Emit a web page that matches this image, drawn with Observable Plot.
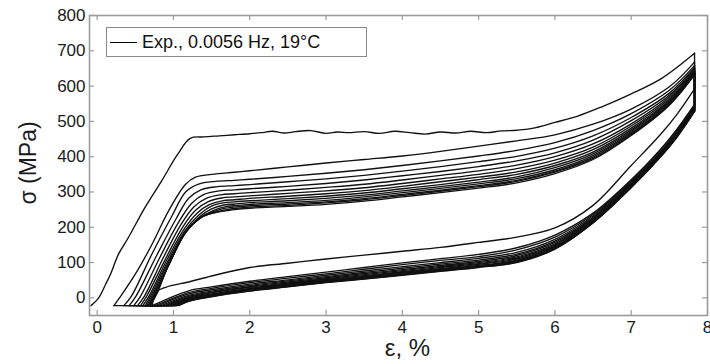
<!DOCTYPE html>
<html><head><meta charset="utf-8">
<script src="https://cdn.jsdelivr.net/npm/d3@7"></script>
<script src="https://cdn.jsdelivr.net/npm/@observablehq/plot@0.6"></script>
<style>
body{margin:0;background:#fff;}
#wrap{position:relative;width:710px;height:364px;font-family:"Liberation Sans",Arial,sans-serif;}
#legend{position:absolute;left:106px;top:27px;width:259px;height:28px;border:1px solid #8a8a8a;background:#fff;display:flex;align-items:center;font-size:18px;color:#111;z-index:2;}
#legend .sw{display:inline-block;width:27px;height:0;border-top:1.3px solid #000;margin:0 5px 0 3px;}
#ylab{position:absolute;left:28px;top:163px;transform:translate(-50%,-50%) rotate(-90deg);font-size:23px;color:#1a1a1a;white-space:nowrap;z-index:2;}
</style></head><body>
<div id="wrap"><div id="legend"><span class="sw"></span><span id="legtext"></span></div><div id="ylab"></div></div>
<script>
// ---- labels & ticks ----
const legendLabel = "Exp., 0.0056 Hz, 19°C";
const xLabel = "ε, %";
const yLabel = "σ (MPa)";
const xTicks = [0, 1, 2, 3, 4, 5, 6, 7, 8];
const yTicks = [0, 100, 200, 300, 400, 500, 600, 700, 800];
const baseSig = -22;

// ---- cycle 1 (first loading, plateau ~470 MPa) ----
const c1LoadEps = [-0.08, 0.02, 0.11, 0.175, 0.28, 0.41, 0.63, 0.85, 1.05, 1.22, 1.4, 1.6, 1.8, 2.0, 2.15, 2.3, 2.45, 2.6, 2.8, 3.0, 3.15, 3.3, 3.5, 3.7, 3.9, 4.1, 4.3, 4.5, 4.7, 4.9, 5.1, 5.3, 5.5, 5.7, 6.0, 6.3, 6.6, 7.0, 7.4, 7.83];
const c1LoadSig = [-22, 0, 38, 67, 124, 171, 257, 333, 405, 452, 456, 459, 462, 465, 468, 472, 467, 471, 474, 466, 470, 468, 471, 466, 472, 468, 464, 470, 467, 472, 468, 473, 475, 480, 497, 515, 540, 578, 622, 693];

// ---- unloading strain grid (shared) ----
const unloadGrid = [7.83, 7.6, 7.38, 7.0, 6.5, 6.0, 5.5, 5.0, 4.5, 4.0, 3.5, 3.0, 2.5, 2.0, 1.5, 1.2];
const c1UnloadSig = [592, 520, 462, 375, 262, 198, 172, 157, 143, 132, 121, 110, 98, 86, 62, 45];
const c1TailEps = [0.9, 0.78, 0.72];
const c1TailSig = [30, 17, -22];

// ---- cycles 2..14: loading rise (per cycle) ----
const riseEps = [
  [0.22, 0.3, 0.5, 0.72, 0.94, 1.16, 1.29, 1.5],
  [0.35, 0.45, 0.72, 0.98, 1.16, 1.33, 1.55],
  [0.42, 0.51, 0.78, 1.03, 1.2, 1.36, 1.58],
  [0.48, 0.57, 0.83, 1.07, 1.24, 1.4, 1.6],
  [0.53, 0.62, 0.87, 1.1, 1.27, 1.43, 1.62],
  [0.57, 0.65, 0.9, 1.12, 1.29, 1.45, 1.63],
  [0.6, 0.68, 0.92, 1.14, 1.31, 1.47, 1.64],
  [0.63, 0.7, 0.93, 1.15, 1.33, 1.48, 1.65],
  [0.65, 0.72, 0.94, 1.16, 1.34, 1.5, 1.66],
  [0.67, 0.74, 0.95, 1.16, 1.35, 1.52, 1.67],
  [0.68, 0.75, 0.95, 1.16, 1.36, 1.54, 1.68],
  [0.69, 0.77, 0.95, 1.16, 1.37, 1.56, 1.69],
  [0.70, 0.78, 0.94, 1.16, 1.38, 1.6, 1.7]
];
const riseSig = [
  [-22, 2, 67, 152, 248, 322, 342, 350],
  [-22, 5, 125, 232, 300, 322, 330],
  [-22, 5, 120, 222, 282, 306, 315],
  [-22, 5, 118, 215, 268, 293, 303],
  [-22, 5, 115, 208, 258, 282, 292],
  [-22, 5, 112, 200, 248, 272, 283],
  [-22, 5, 110, 195, 240, 264, 275],
  [-22, 5, 105, 190, 234, 258, 269],
  [-22, 6, 103, 187, 229, 252, 263],
  [-22, 8, 100, 186, 226, 247, 258],
  [-22, 8, 98, 185, 228, 245, 254],
  [-22, 10, 98, 186, 229, 243, 250],
  [-22, 10, 95, 185, 230, 244, 247]
];

// ---- cycles 2..14: loading after the knee, on a shared strain grid ----
const loadGrid = [1.8, 2.0, 2.5, 3.0, 3.5, 4.0, 4.5, 5.0, 5.5, 6.0, 6.5, 7.0, 7.5, 7.83];
const loadSig = [
  [356, 360, 371, 382, 392, 402, 415, 430, 445, 462, 492, 535, 598, 668],
  [333, 336, 344, 353, 363, 375, 388, 402, 418, 440, 474, 522, 588, 658],
  [318, 321, 329, 337, 347, 359, 372, 386, 401, 424, 459, 511, 580, 653],
  [306, 309, 316, 324, 334, 346, 358, 372, 388, 411, 447, 502, 574, 649],
  [295, 298, 305, 313, 322, 334, 347, 360, 376, 400, 436, 493, 569, 646],
  [286, 289, 296, 303, 312, 324, 337, 350, 366, 390, 427, 487, 564, 643],
  [278, 282, 288, 295, 304, 316, 329, 342, 357, 382, 420, 481, 560, 641],
  [272, 275, 281, 288, 297, 309, 321, 335, 350, 375, 413, 476, 557, 639],
  [266, 270, 275, 282, 291, 303, 315, 328, 343, 369, 408, 472, 554, 637],
  [261, 265, 270, 276, 286, 298, 310, 323, 338, 363, 403, 468, 551, 635],
  [257, 261, 266, 272, 281, 293, 305, 318, 333, 359, 399, 465, 549, 634],
  [253, 257, 262, 269, 278, 290, 302, 315, 330, 356, 395, 462, 548, 633],
  [250, 254, 259, 265, 274, 286, 298, 311, 326, 352, 392, 460, 546, 632]
];

// ---- cycles 2..14: unloading on unloadGrid ----
const unloadSig = [
  [548, 478, 420, 335, 240, 178, 142, 123, 111, 99, 86, 73, 60, 47, 31, 20],
  [545, 475, 417, 332, 236, 172, 136, 117, 106, 94, 81, 68, 56, 43, 27, 15],
  [542, 471, 413, 328, 232, 166, 129, 112, 100, 88, 76, 64, 51, 39, 23, 11],
  [540, 468, 411, 325, 228, 161, 124, 107, 96, 84, 72, 60, 48, 35, 19, 7],
  [537, 466, 408, 323, 225, 157, 120, 103, 92, 80, 69, 57, 45, 32, 16, 4],
  [536, 464, 406, 321, 223, 153, 116, 100, 89, 77, 66, 54, 42, 30, 14, 1],
  [534, 462, 405, 319, 220, 150, 113, 97, 86, 74, 63, 52, 40, 27, 11, -1],
  [533, 460, 403, 317, 218, 147, 110, 95, 83, 72, 61, 50, 38, 25, 9, -3],
  [531, 459, 402, 316, 217, 145, 107, 92, 81, 70, 59, 48, 36, 24, 8, -5],
  [530, 458, 401, 315, 215, 143, 105, 90, 79, 68, 57, 47, 34, 22, 6, -6],
  [529, 457, 400, 314, 214, 141, 103, 89, 78, 66, 55, 45, 33, 21, 5, -8],
  [529, 456, 399, 313, 213, 139, 101, 87, 76, 65, 54, 44, 32, 20, 4, -9],
  [528, 455, 398, 312, 212, 138, 100, 86, 75, 64, 53, 43, 31, 19, 3, -10]
];
const unloadEnd = [0.72, 0.76, 0.8, 0.84, 0.88, 0.91, 0.94, 0.97, 0.99, 1.01, 1.03, 1.05, 1.07];

// ---- build smooth branches (curves) and straight pieces (drops at peak, baseline returns) ----
const curves = [], links = [];
let cs = 0, ls = 0;
const addCurve = (E, S) => { E.forEach((e, i) => curves.push({eps: e, sig: S[i], seg: cs})); cs++; };
const addLink = (e1, s1, e2, s2) => { links.push({eps: e1, sig: s1, seg: ls}, {eps: e2, sig: s2, seg: ls}); ls++; };

addCurve(c1LoadEps, c1LoadSig);
addLink(7.83, c1LoadSig[c1LoadSig.length - 1], unloadGrid[0], c1UnloadSig[0]);
addCurve(unloadGrid.concat(c1TailEps), c1UnloadSig.concat(c1TailSig));
let prevEnd = c1TailEps[c1TailEps.length - 1];
for (let c = 0; c < riseEps.length; c++) {
  addLink(prevEnd, baseSig, riseEps[c][0], riseSig[c][0]);
  addCurve(riseEps[c].concat(loadGrid), riseSig[c].concat(loadSig[c]));
  addLink(loadGrid[loadGrid.length - 1], loadSig[c][loadSig[c].length - 1], unloadGrid[0], unloadSig[c][0]);
  addCurve(unloadGrid.concat([unloadEnd[c]]), unloadSig[c].concat([baseSig]));
  prevEnd = unloadEnd[c];
}

const W = 710, H = 364, mL = 89, mR = 3, mT = 15, mB = 49;
const pw = W - mL - mR, ph = H - mT - mB;
const frameColor = "#9c9c9c";

const chart = Plot.plot({
  width: W, height: H,
  marginLeft: mL, marginRight: mR, marginTop: mT, marginBottom: mB,
  x: {domain: [-0.1, 8]},
  y: {domain: [-50, 800]},
  style: {fontFamily: '"Liberation Sans", Arial, sans-serif', background: "white", color: "#1a1a1a"},
  marks: [
    Plot.line(links, {x: "eps", y: "sig", z: "seg", stroke: "#111", strokeWidth: 1.35}),
    Plot.line(curves, {x: "eps", y: "sig", z: "seg", curve: "catmull-rom", stroke: "#111", strokeWidth: 1.35, strokeLinejoin: "round"}),
    Plot.frame({stroke: frameColor, strokeWidth: 1.6}),
    Plot.tickX(xTicks, {x: d => d, insetTop: ph - 5, stroke: frameColor, strokeWidth: 1.2}),
    Plot.tickX(xTicks, {x: d => d, insetBottom: ph - 5, stroke: frameColor, strokeWidth: 1.2}),
    Plot.tickY(yTicks, {y: d => d, insetRight: pw - 5, stroke: frameColor, strokeWidth: 1.2}),
    Plot.tickY(yTicks, {y: d => d, insetLeft: pw - 5, stroke: frameColor, strokeWidth: 1.2}),
    Plot.axisX(xTicks, {tickSize: 0, tickPadding: 5, fontSize: 17, label: null, tickFormat: d => String(d)}),
    Plot.axisY(yTicks, {tickSize: 0, tickPadding: 4, fontSize: 17, label: null, tickFormat: d => String(d)}),
    Plot.text([xLabel], {frameAnchor: "bottom", dx: 9, dy: 40, text: d => d, fontSize: 24})
  ]
});
document.getElementById("wrap").prepend(chart);
document.getElementById("legtext").textContent = legendLabel;
document.getElementById("ylab").textContent = yLabel;
</script>
</body></html>
